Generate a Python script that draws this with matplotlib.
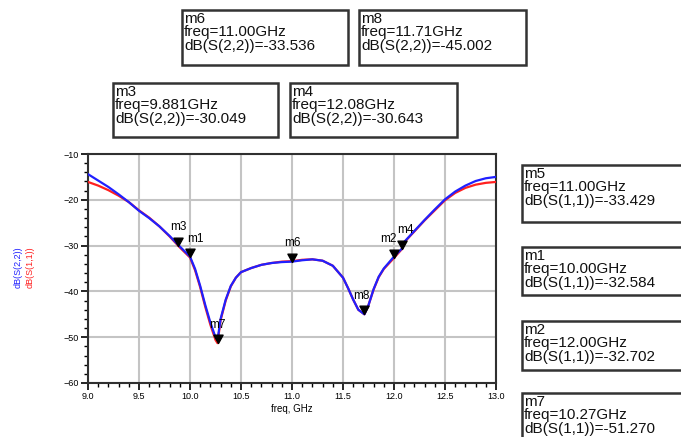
import matplotlib
matplotlib.use("Agg")
import matplotlib.pyplot as plt
from matplotlib.path import Path
import numpy as np

plt.rcParams['font.family'] = ['Liberation Sans', 'DejaVu Sans']

freq = [9.0, 9.1, 9.2, 9.3, 9.4, 9.5, 9.6, 9.7, 9.8, 9.9, 10.0, 10.05, 10.1, 10.15,
        10.2, 10.25, 10.27, 10.3, 10.35, 10.4, 10.45, 10.5, 10.6, 10.7, 10.8, 10.9,
        11.0, 11.1, 11.2, 11.3, 11.4, 11.5, 11.55, 11.6, 11.65, 11.71, 11.75, 11.8,
        11.85, 11.9, 12.0, 12.08, 12.1, 12.2, 12.3, 12.4, 12.5, 12.6, 12.7, 12.8,
        12.9, 13.0]

s22 = [-14.4, -15.8, -17.2, -18.8, -20.5, -22.4, -24.0, -25.8, -27.9, -30.2, -32.4,
       -35.1, -38.8, -43.0, -46.8, -50.0, -50.6, -46.0, -41.8, -38.8, -37.0, -35.8,
       -34.9, -34.2, -33.8, -33.6, -33.5, -33.2, -33.0, -33.3, -34.4, -37.0, -39.3,
       -41.8, -44.0, -45.0, -43.0, -39.5, -36.8, -35.0, -32.4, -30.6, -29.2, -26.8,
       -24.4, -22.1, -19.9, -18.2, -16.9, -15.9, -15.3, -15.0]

s11 = [-16.1, -16.9, -17.9, -19.1, -20.5, -22.3, -23.9, -25.8, -28.0, -30.4, -32.6,
       -35.4, -39.1, -43.4, -47.3, -50.6, -51.3, -46.3, -42.0, -38.9, -37.0, -35.8,
       -34.9, -34.2, -33.8, -33.5, -33.4, -33.1, -33.0, -33.3, -34.4, -37.0, -39.3,
       -41.8, -44.0, -45.0, -43.0, -39.6, -36.9, -35.1, -32.7, -30.7, -29.3, -26.9,
       -24.5, -22.3, -20.1, -18.5, -17.4, -16.7, -16.3, -16.1]

# markers: name, trace, freq, value
mk_names = ["m6", "m8", "m3", "m4", "m5", "m1", "m2", "m7"]
mk_trace = ["S(2,2)", "S(2,2)", "S(2,2)", "S(2,2)", "S(1,1)", "S(1,1)", "S(1,1)", "S(1,1)"]
mk_freq_txt = ["11.00", "11.71", "9.881", "12.08", "11.00", "10.00", "12.00", "10.27"]
mk_freq = [11.00, 11.71, 9.881, 12.08, 11.00, 10.00, 12.00, 10.27]
mk_val = [-33.536, -45.002, -30.049, -30.643, -33.429, -32.584, -32.702, -51.270]

W, H = 681, 437
fig = plt.figure(figsize=(W / 100, H / 100), dpi=100)
ax = fig.add_axes([88 / W, 1 - 383 / H, (496 - 88) / W, (383 - 154) / H])

ax.plot(freq, s11, color='#ff2020', lw=1.6, zorder=3)
ax.plot(freq, s22, color='#2020ff', lw=1.6, zorder=4)

ax.set_xlim(9.0, 13.0)
ax.set_ylim(-60, -10)
ax.set_xticks(np.arange(9.0, 13.01, 0.5))
ax.set_xticklabels([f"{v:.1f}" for v in np.arange(9.0, 13.01, 0.5)])
ax.set_yticks(np.arange(-60, -9, 10))
ax.set_xticks(np.arange(9.0, 13.01, 0.1), minor=True)
ax.set_yticks(np.arange(-60, -9, 2), minor=True)
ax.grid(True, which='major', color='#c4c4c4', lw=1.5, zorder=1)
ax.tick_params(axis='both', which='major', labelsize=6.5, length=5, width=1.2, direction='out', pad=1.5)
ax.tick_params(axis='both', which='minor', length=3, width=1.0, direction='out')
for s in ax.spines.values():
    s.set_linewidth(1.5)
    s.set_color('#303030')

ax.set_xlabel("freq, GHz", fontsize=7, labelpad=2)
fig.text(18 / W, 1 - 267 / H, "dB(S(2,2))", color='#2020ff', rotation=90, fontsize=6.5,
         ha='center', va='center')
fig.text(30 / W, 1 - 267 / H, "dB(S(1,1))", color='#ff2020', rotation=90, fontsize=6.5,
         ha='center', va='center')

tri = Path([(0, 0), (-0.55, 1), (0.55, 1), (0, 0)], [Path.MOVETO, Path.LINETO, Path.LINETO, Path.CLOSEPOLY])
label_off = {"m3": (0, 0), "m1": (4, 0), "m7": (0, 0), "m6": (0, 0), "m5": (0, 0),
             "m8": (-2, 0), "m2": (-4, 0), "m4": (2, 0)}
for n, f, v in zip(mk_names, mk_freq, mk_val):
    if n == "m5":
        continue
    ax.plot([f], [v], marker=tri, ms=12, color='black', zorder=6, clip_on=False)
    dx, dy = label_off[n]
    ax.annotate(n, (f, v), xytext=(dx, 9), textcoords='offset points', ha='center',
                va='bottom', fontsize=8.5, zorder=7)

# marker readout boxes (figure pixel coords: x0, y0_top, x1, y1_bottom)
boxes = {
    "m6": (182, 10, 348, 65),
    "m8": (359, 10, 526, 65),
    "m3": (113, 83, 278, 137),
    "m4": (290, 83, 457, 137),
    "m5": (522, 165, 700, 222),
    "m1": (522, 247, 700, 295),
    "m2": (522, 321, 700, 370),
    "m7": (522, 393, 700, 450),
}
for n, tr, ft in zip(mk_names, mk_trace, mk_freq_txt):
    v = mk_val[mk_names.index(n)]
    x0, y0, x1, y1 = boxes[n]
    rect = plt.Rectangle((x0 / W, 1 - y1 / H), (x1 - x0) / W, (y1 - y0) / H,
                         transform=fig.transFigure, facecolor='white', edgecolor='#333333',
                         lw=1.8, clip_on=False)
    fig.add_artist(rect)
    fig.text((x0 + 2) / W, 1 - (y0 + 2) / H, f"{n}\nfreq={ft}GHz\ndB({tr})={v:.3f}",
             fontsize=11, ha='left', va='top', linespacing=0.95, color='#111111')

fig.savefig("out.png", dpi=100)
